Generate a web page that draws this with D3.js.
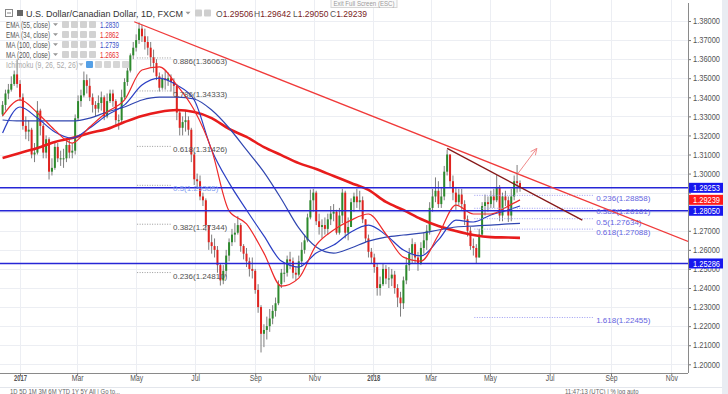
<!DOCTYPE html>
<html>
<head>
<meta charset="utf-8">
<script src="https://cdn.jsdelivr.net/npm/d3@7"></script>
<style>
  body { margin: 0; background: #fff; font-family: "Liberation Sans", Arial, sans-serif; }
  svg { display: block; }
</style>
</head>
<body>
<svg id="chart" width="728" height="394"></svg>
<script>
// ---- data (3-day bars, first bar 14 Dec 2016, last 1 Jun 2018) ----
const firstBar = new Date(2016, 11, 14);
const firstOpen = 1.3310;
const closes = [
  1.3360,1.3420,1.3440,1.3470,1.3520,1.3470,1.3400,1.3250,1.3220,1.3230,
  1.3100,1.3110,1.3330,1.3250,1.3110,1.3180,1.3010,1.3030,1.3140,1.3080,
  1.3080,1.3080,1.3150,1.3110,1.3120,1.3290,1.3380,1.3410,1.3490,1.3460,
  1.3400,1.3360,1.3340,1.3370,1.3400,1.3300,1.3380,1.3420,1.3380,1.3280,
  1.3280,1.3400,1.3480,1.3540,1.3620,1.3660,1.3700,1.3760,1.3720,1.3690,
  1.3660,1.3610,1.3580,1.3510,1.3450,1.3500,1.3490,1.3500,1.3480,1.3460,
  1.3320,1.3240,1.3270,1.3280,1.3230,1.3100,1.2970,1.2960,1.2880,1.2860,
  1.2730,1.2640,1.2620,1.2600,1.2520,1.2440,1.2490,1.2570,1.2640,1.2680,
  1.2690,1.2730,1.2620,1.2580,1.2540,1.2500,1.2490,1.2390,1.2300,1.2160,
  1.2180,1.2200,1.2240,1.2280,1.2320,1.2420,1.2480,1.2480,1.2550,1.2540,
  1.2480,1.2470,1.2540,1.2600,1.2650,1.2770,1.2860,1.2900,1.2750,1.2720,
  1.2730,1.2710,1.2760,1.2790,1.2800,1.2690,1.2780,1.2900,1.2690,1.2720,
  1.2850,1.2880,1.2850,1.2860,1.2760,1.2660,1.2590,1.2560,1.2510,1.2400,
  1.2420,1.2500,1.2450,1.2450,1.2470,1.2400,1.2350,1.2320,1.2440,1.2520,
  1.2580,1.2630,1.2560,1.2530,1.2610,1.2650,1.2700,1.2820,1.2880,1.2910,
  1.2840,1.2880,1.3010,1.3100,1.2960,1.2900,1.2850,1.2890,1.2840,1.2760,
  1.2700,1.2620,1.2610,1.2560,1.2680,1.2830,1.2850,1.2840,1.2880,1.2860,
  1.2930,1.2780,1.2880,1.2860,1.2780,1.2880,1.2960,1.2951,1.29239
];
const highs = [
  1.3380,1.3440,1.3470,1.3510,1.3540,1.3598,1.3490,1.3420,1.3300,1.3280,
  1.3240,1.3160,1.3380,1.3340,1.3260,1.3200,1.3190,1.3080,1.3170,1.3160,
  1.3120,1.3130,1.3180,1.3180,1.3160,1.3310,1.3410,1.3440,1.3535,1.3520,
  1.3500,1.3420,1.3380,1.3410,1.3430,1.3410,1.3420,1.3440,1.3440,1.3390,
  1.3310,1.3440,1.3500,1.3560,1.3630,1.3690,1.3730,1.3793,1.3780,1.3760,
  1.3720,1.3690,1.3650,1.3600,1.3530,1.3520,1.3540,1.3530,1.3520,1.3500,
  1.3470,1.3330,1.3300,1.3330,1.3300,1.3240,1.3110,1.3000,1.2990,1.2900,
  1.2870,1.2730,1.2680,1.2660,1.2620,1.2530,1.2520,1.2600,1.2660,1.2710,
  1.2740,1.2777,1.2740,1.2630,1.2610,1.2560,1.2560,1.2500,1.2420,1.2310,
  1.2210,1.2250,1.2290,1.2310,1.2350,1.2440,1.2500,1.2530,1.2570,1.2590,
  1.2560,1.2510,1.2570,1.2640,1.2680,1.2790,1.2916,1.2920,1.2910,1.2790,
  1.2760,1.2770,1.2790,1.2830,1.2840,1.2810,1.2820,1.2920,1.2910,1.2770,
  1.2870,1.2900,1.2920,1.2910,1.2880,1.2760,1.2680,1.2610,1.2580,1.2530,
  1.2460,1.2530,1.2520,1.2510,1.2500,1.2490,1.2420,1.2380,1.2460,1.2560,
  1.2610,1.2660,1.2640,1.2590,1.2640,1.2690,1.2730,1.2850,1.2920,1.2980,
  1.2960,1.2930,1.3040,1.3125,1.3100,1.2990,1.2930,1.2920,1.2920,1.2860,
  1.2780,1.2720,1.2660,1.2630,1.2710,1.2850,1.2890,1.2880,1.2910,1.2920,
  1.2992,1.2940,1.2900,1.2910,1.2880,1.2920,1.2990,1.3045,1.29642
];
const lows = [
  1.3300,1.3330,1.3390,1.3430,1.3460,1.3450,1.3380,1.3230,1.3180,1.3170,
  1.3080,1.3060,1.3100,1.3200,1.3080,1.3080,1.2969,1.2990,1.3020,1.3060,
  1.3040,1.3030,1.3060,1.3080,1.3080,1.3100,1.3280,1.3350,1.3400,1.3420,
  1.3380,1.3320,1.3300,1.3320,1.3330,1.3280,1.3290,1.3370,1.3350,1.3250,
  1.3230,1.3270,1.3390,1.3460,1.3530,1.3600,1.3640,1.3680,1.3690,1.3650,
  1.3620,1.3560,1.3530,1.3490,1.3430,1.3440,1.3440,1.3460,1.3430,1.3420,
  1.3280,1.3200,1.3200,1.3220,1.3200,1.3060,1.2940,1.2920,1.2860,1.2830,
  1.2700,1.2600,1.2580,1.2560,1.2480,1.2413,1.2420,1.2460,1.2540,1.2620,
  1.2640,1.2680,1.2590,1.2550,1.2510,1.2460,1.2450,1.2370,1.2270,1.2062,
  1.2090,1.2130,1.2170,1.2210,1.2250,1.2310,1.2400,1.2430,1.2460,1.2500,
  1.2450,1.2440,1.2460,1.2510,1.2580,1.2640,1.2760,1.2800,1.2730,1.2680,
  1.2660,1.2680,1.2680,1.2730,1.2750,1.2680,1.2680,1.2740,1.2660,1.2650,
  1.2720,1.2800,1.2820,1.2810,1.2740,1.2640,1.2560,1.2530,1.2480,1.2360,
  1.2360,1.2410,1.2420,1.2400,1.2410,1.2370,1.2300,1.2250,1.2290,1.2420,
  1.2490,1.2530,1.2530,1.2490,1.2520,1.2580,1.2600,1.2680,1.2800,1.2850,
  1.2820,1.2820,1.2860,1.2990,1.2930,1.2860,1.2810,1.2830,1.2810,1.2730,
  1.2670,1.2600,1.2570,1.2527,1.2560,1.2670,1.2780,1.2800,1.2820,1.2820,
  1.2850,1.2750,1.2750,1.2830,1.2746,1.2750,1.2860,1.2900,1.29050
];
const lastOpen = 1.29506;

// moving averages, read every 6 bars
const maBars = [0,6,12,18,24,30,36,42,48,54,60,66,72,78,84,90,96,102,108,114,120,126,132,138,144,150,156,162,168,174,178];
const ema34 = [1.3302,1.3386,1.3318,1.3228,1.3160,1.3244,1.3323,1.3386,1.3543,1.3559,1.3464,1.3333,1.3124,1.2804,1.2736,1.2583,1.2410,1.2452,1.2625,1.2704,1.2756,1.2788,1.2683,1.2562,1.2541,1.2678,1.2835,1.2788,1.2788,1.2830,1.2862];
const ema55 = [1.3213,1.3349,1.3291,1.3218,1.3186,1.3239,1.3307,1.3360,1.3464,1.3501,1.3464,1.3386,1.3124,1.2951,1.2809,1.2673,1.2541,1.2510,1.2583,1.2625,1.2694,1.2730,1.2678,1.2599,1.2568,1.2652,1.2756,1.2746,1.2783,1.2809,1.2830];
const ma100 = [1.3281,1.3276,1.3276,1.3276,1.3276,1.3291,1.3323,1.3349,1.3386,1.3401,1.3401,1.3391,1.3333,1.3239,1.3124,1.3008,1.2867,1.2715,1.2615,1.2583,1.2610,1.2646,1.2667,1.2678,1.2688,1.2704,1.2720,1.2725,1.2730,1.2736,1.2739];
const ma200 = [1.3082,1.3108,1.3134,1.3166,1.3186,1.3213,1.3234,1.3270,1.3302,1.3323,1.3333,1.3323,1.3291,1.3234,1.3192,1.3139,1.3097,1.3055,1.3024,1.2987,1.2951,1.2914,1.2851,1.2809,1.2762,1.2725,1.2699,1.2678,1.2667,1.2665,1.2663];

// horizontal support / resistance lines
const hLevels = [1.29253, 1.28050, 1.25286];
const lastPrice = 1.29239;

// fibonacci retracements
const fibLeftRatios = ["0.886","0.786","0.618","0.5","0.382","0.236"];
const fibLeftPrices = [1.36063, 1.34333, 1.31426, 1.29385, 1.27344, 1.24810];
const fibRightRatios = ["0.236","0.382","0.5","0.618","1.618"];
const fibRightPrices = [1.28858, 1.28181, 1.27634, 1.27088, 1.22455];

// drawn trend lines [date, price]
const trendRed = [[new Date(2017,3,29), 1.3796], [new Date(2018,10,18), 1.2644]];
const trendDark = [[new Date(2018,2,18), 1.3132], [new Date(2018,7,3), 1.2756]];
const arrowPts = [[new Date(2018,4,30), 1.3001], [new Date(2018,5,18), 1.3132]];

const yTicks = d3.range(0, 19).map(k => +(1.20 + k * 0.01).toFixed(2));
// axis labels hidden behind the price tags in the picture
const yHiddenLabels = [1.28, 1.29];
const xTicks = d3.timeMonth.every(2).range(new Date(2017,0,1), new Date(2018,11,1));

const indicators = [
  { name: "EMA (55, close)", value: "1.2830", color: "#3a4fc7" },
  { name: "EMA (34, close)", value: "1.2862", color: "#e8302f" },
  { name: "MA (100, close)", value: "1.2739", color: "#3a4fc7" },
  { name: "MA (200, close)", value: "1.2663", color: "#e8302f" }
];
const ohlc = [["O", "1.29506"], ["H", "1.29642"], ["L", "1.29050"], ["C", "1.29239"]];

// ---- drawing ----
const svg = d3.select("#chart").attr("font-family", "Liberation Sans, Arial, sans-serif");
const plotR = 688, plotB = 373;

// the screenshot's text is narrower than the font: squeeze it
function squeeze(sel, f) {
  sel.each(function () {
    this.setAttribute("textLength", this.getComputedTextLength() * f);
    this.setAttribute("lengthAdjust", "spacingAndGlyphs");
  });
}
function fitTo(sel, w) {
  sel.attr("textLength", w).attr("lengthAdjust", "spacingAndGlyphs");
}
// little dropdown triangle
function caret(g, cx, cy, col) {
  g.append("path").attr("d", `M${cx - 2.5},${cy - 1.2}L${cx + 2.5},${cy - 1.2}L${cx},${cy + 1.6}Z`)
    .attr("fill", col);
}

const x = d3.scaleTime()
  .domain([new Date(2017,0,1), new Date(2018,0,1), new Date(2018,5,1), new Date(2018,10,1)])
  .range([20, 373.3, 520, 671.3]);
const y = d3.scaleLinear().domain([1.20, 1.38]).range([364.3, 21]);

const barDate = i => d3.timeDay.offset(firstBar, 3 * i);

svg.append("rect").attr("width", 728).attr("height", 394).attr("fill", "#fff");
svg.append("rect").attr("x", 722).attr("width", 6).attr("height", 394).attr("fill", "#e9ecf2");

svg.append("defs").append("clipPath").attr("id", "plot")
  .append("rect").attr("width", plotR).attr("height", plotB);

// grid
const grid = svg.append("g").attr("stroke", "#eceef3").attr("stroke-width", 1);
grid.selectAll(".h").data(yTicks).enter().append("line")
  .attr("x1", 0).attr("x2", plotR)
  .attr("y1", d => Math.round(y(d)) + 0.5).attr("y2", d => Math.round(y(d)) + 0.5);
grid.selectAll(".v").data(xTicks).enter().append("line")
  .attr("y1", 0).attr("y2", plotB)
  .attr("x1", d => Math.round(x(d)) + 0.5).attr("x2", d => Math.round(x(d)) + 0.5);

const plot = svg.append("g").attr("clip-path", "url(#plot)");

// candles
const bars = closes.map((c, i) => {
  const o = i === 0 ? firstOpen : (i === closes.length - 1 ? lastOpen : closes[i - 1]);
  return { d: barDate(i), o, c, h: Math.max(highs[i], o, c), l: Math.min(lows[i], o, c) };
});
const cg = plot.append("g");
cg.selectAll(".wick").data(bars).enter().append("line")
  .attr("x1", d => x(d.d)).attr("x2", d => x(d.d))
  .attr("y1", d => y(d.h)).attr("y2", d => y(d.l))
  .attr("stroke", "#7d7d7d").attr("stroke-width", 1);
cg.selectAll(".body").data(bars).enter().append("rect")
  .attr("x", d => x(d.d) - 1)
  .attr("width", 2)
  .attr("y", d => y(Math.max(d.o, d.c)))
  .attr("height", d => Math.max(1, Math.abs(y(d.o) - y(d.c))))
  .attr("fill", d => d.c >= d.o ? "#2d8a2d" : "#e0231f");

// moving averages
const maLine = vals => d3.line()
  .x((d, k) => x(barDate(maBars[k])))
  .y(d => y(d))
  .curve(d3.curveMonotoneX)(vals);
plot.append("path").attr("d", maLine(ma200)).attr("fill", "none").attr("stroke", "#e81c1c").attr("stroke-width", 2.6);
plot.append("path").attr("d", maLine(ma100)).attr("fill", "none").attr("stroke", "#3046b0").attr("stroke-width", 1.2);
plot.append("path").attr("d", maLine(ema55)).attr("fill", "none").attr("stroke", "#2b3fc4").attr("stroke-width", 1.2);
plot.append("path").attr("d", maLine(ema34)).attr("fill", "none").attr("stroke", "#ee2a2a").attr("stroke-width", 1.2);

// horizontal levels
plot.selectAll(".lvl").data(hLevels).enter().append("line")
  .attr("x1", 0).attr("x2", plotR)
  .attr("y1", d => y(d)).attr("y2", d => y(d))
  .attr("stroke", "#2626d6").attr("stroke-width", 1.6);

// fib left
const fibL0 = new Date(2017,4,2), fibL1 = new Date(2017,5,6);
plot.selectAll(".fl").data(fibLeftPrices).enter().append("line")
  .attr("x1", x(fibL0)).attr("x2", x(fibL1))
  .attr("y1", d => y(d)).attr("y2", d => y(d))
  .attr("stroke", "#9a9a9a").attr("stroke-dasharray", "1,1.5");
plot.selectAll(".flt").data(fibLeftPrices).enter().append("text")
  .attr("x", x(fibL1) + 2).attr("y", d => y(d) + 6)
  .attr("font-size", 8).attr("fill", (d, k) => fibLeftRatios[k] === "0.5" ? "#7f9cf0" : "#505050")
  .text((d, k) => `${fibLeftRatios[k]}(${d.toFixed(5)})`);

// fib right
const fibR0 = new Date(2018,3,15), fibR1 = new Date(2018,7,15);
plot.selectAll(".fr").data(fibRightPrices).enter().append("line")
  .attr("x1", x(fibR0)).attr("x2", x(fibR1))
  .attr("y1", d => y(d)).attr("y2", d => y(d))
  .attr("stroke", "#9b9bf2").attr("stroke-dasharray", "1,1.5");
plot.selectAll(".frt").data(fibRightPrices).enter().append("text")
  .attr("x", x(fibR1) + 2).attr("y", d => y(d) + 6)
  .attr("font-size", 8).attr("fill", "#6464e0")
  .text((d, k) => `${fibRightRatios[k]}(${d.toFixed(5)})`);

// trend lines
const seg = pts => d3.line().x(d => x(d[0])).y(d => y(d[1]))(pts);
plot.append("path").attr("d", seg(trendRed)).attr("stroke", "#f03a3a").attr("stroke-width", 1.3).attr("fill", "none");
plot.append("path").attr("d", seg(trendDark)).attr("stroke", "#861818").attr("stroke-width", 1.3).attr("fill", "none");
plot.append("path").attr("d", seg(arrowPts)).attr("stroke", "#f08a8a").attr("stroke-width", 1).attr("fill", "none");
{
  const x1 = x(arrowPts[1][0]), y1 = y(arrowPts[1][1]);
  const a = Math.atan2(y1 - y(arrowPts[0][1]), x1 - x(arrowPts[0][0]));
  const L = 7;
  const p = [a + 2.7, a - 2.7].map(t => [x1 + L * Math.cos(t), y1 + L * Math.sin(t)]);
  plot.append("path").attr("d", `M${p[0]}L${x1},${y1}L${p[1]}`)
    .attr("stroke", "#f08a8a").attr("stroke-width", 1).attr("fill", "none");
}

// right axis
const ya = svg.append("g").attr("transform", `translate(${plotR},0)`)
  .call(d3.axisRight(y).tickValues(yTicks).tickSize(3)
    .tickFormat(d => yHiddenLabels.includes(d) ? "" : d3.format(".5f")(d)));
ya.select(".domain").remove();
ya.selectAll("line").attr("stroke", "#777");
ya.selectAll("text").attr("font-size", 8.5).attr("fill", "#555").attr("x", 5)
  .attr("font-family", "Liberation Sans, Arial, sans-serif");
fitTo(ya.selectAll("text").filter(d => !yHiddenLabels.includes(d)), 27);
svg.append("line").attr("x1", plotR + 0.5).attr("x2", plotR + 0.5).attr("y1", 3).attr("y2", plotB)
  .attr("stroke", "#8a8a8a");

// price labels on axis
const tags = [
  { v: hLevels[0], yy: y(hLevels[0]), c: "#1717ee" },
  { v: lastPrice, yy: y(hLevels[0]) + 12, c: "#ff1a1a" },
  { v: hLevels[1], yy: y(hLevels[1]), c: "#1717ee" },
  { v: hLevels[2], yy: y(hLevels[2]), c: "#1717ee" }
];
const tg = svg.append("g");
tg.selectAll("rect").data(tags).enter().append("rect")
  .attr("x", plotR + 1).attr("width", 34).attr("y", d => d.yy - 5).attr("height", 10)
  .attr("fill", d => d.c);
tg.selectAll("text").data(tags).enter().append("text")
  .attr("x", plotR + 5).attr("y", d => d.yy + 3.2)
  .attr("font-size", 8.5).attr("fill", "#fff").text(d => d.v.toFixed(5))
  .call(fitTo, 27);

// bottom axis
svg.append("line").attr("x1", 0).attr("x2", plotR).attr("y1", plotB + 0.5).attr("y2", plotB + 0.5)
  .attr("stroke", "#8a8a8a");
const xa = svg.append("g").attr("transform", `translate(0,${plotB})`)
  .call(d3.axisBottom(x).tickValues(xTicks).tickSize(3)
    .tickFormat(d => d.getMonth() === 0 ? d3.timeFormat("%Y")(d) : d3.timeFormat("%b")(d)));
xa.select(".domain").remove();
xa.selectAll("line").attr("stroke", "#777");
xa.selectAll("text").attr("font-size", 8.5).attr("fill", "#555").attr("dy", "0.25em")
  .attr("font-family", "Liberation Sans, Arial, sans-serif")
  .attr("font-weight", d => d.getMonth() === 0 ? "bold" : "normal");
squeeze(xa.selectAll("text").filter(d => d.getMonth() !== 0), 0.8);
fitTo(xa.selectAll("text").filter(d => d.getMonth() === 0), 13);

// bottom toolbar (partly below the window)
svg.append("line").attr("x1", 0).attr("x2", 722).attr("y1", 387.5).attr("y2", 387.5).attr("stroke", "#e3e6ec");
svg.append("text").attr("x", 10).attr("y", 393.5).attr("font-size", 7).attr("fill", "#666")
  .text("1D  5D  1M  3M  6M  YTD  1Y  5Y  All  |  Go to...").call(squeeze, 0.85);
svg.append("text").attr("x", 565).attr("y", 393.5).attr("font-size", 7).attr("fill", "#666")
  .text("11:47:13 (UTC)  |  %  log  auto").call(squeeze, 0.85);

// legend
const lg = svg.append("g");
lg.append("rect").attr("x", 5.5).attr("y", 9.5).attr("width", 7).attr("height", 7).attr("fill", "none").attr("stroke", "#888");
lg.append("line").attr("x1", 7).attr("x2", 11).attr("y1", 13).attr("y2", 13).attr("stroke", "#888");
lg.append("rect").attr("x", 17).attr("y", 10).attr("width", 6).attr("height", 6).attr("fill", "#666");
lg.append("text").attr("x", 26).attr("y", 16.5).attr("font-size", 9.5).attr("fill", "#333")
  .text("U.S. Dollar/Canadian Dollar, 1D, FXCM").call(fitTo, 157);
caret(lg, 188, 13, "#999");
[195, 204].forEach(px => lg.append("rect").attr("x", px).attr("y", 9.5).attr("width", 7).attr("height", 7)
  .attr("rx", 1).attr("fill", "#cfcfcf"));
const ohlcX = [216, 254, 293, 330];
ohlc.forEach((p, k) => {
  const t = lg.append("text").attr("x", ohlcX[k]).attr("y", 16.5).attr("font-size", 8.5);
  t.append("tspan").attr("fill", "#555").text(p[0]);
  t.append("tspan").attr("fill", "#7a2424").text(p[1]);
});

indicators.forEach((ind, k) => {
  const cy = 24.5 + k * 10;
  lg.append("text").attr("x", 6).attr("y", cy + 3).attr("font-size", 8.5).attr("fill", "#555")
    .text(ind.name).call(fitTo, 44);
  caret(lg, 55.5, cy, "#999");
  [62, 71, 80, 89].forEach(px => lg.append("rect").attr("x", px).attr("y", cy - 3.5)
    .attr("width", 7).attr("height", 7).attr("rx", 1).attr("fill", "#d2d2d2"));
  lg.append("text").attr("x", 100).attr("y", cy + 3).attr("font-size", 8.5).attr("fill", ind.color)
    .text(ind.value).call(fitTo, 19);
});
{
  const cy = 64.5;
  lg.append("text").attr("x", 6).attr("y", cy + 3).attr("font-size", 8.5).attr("fill", "#aaa")
    .text("Ichimoku (9, 26, 52, 26)").call(fitTo, 72);
  caret(lg, 81, cy, "#bbb");
  [86, 95, 104, 113, 122].forEach((px, k) => lg.append("rect").attr("x", px).attr("y", cy - 3.5)
    .attr("width", 7).attr("height", 7).attr("rx", 1).attr("fill", k === 0 ? "#55a0e6" : "#d6d6d6"));
}

// tooltip at the top
svg.append("rect").attr("x", 331).attr("y", -2).attr("width", 66).attr("height", 9.5)
  .attr("fill", "#fafafa").attr("stroke", "#d5d5d5");
svg.append("text").attr("x", 364).attr("y", 5.5).attr("text-anchor", "middle")
  .attr("font-size", 7).attr("fill", "#9a9a9a").text("Exit Full Screen (ESC)").call(fitTo, 61);
</script>
</body>
</html>
